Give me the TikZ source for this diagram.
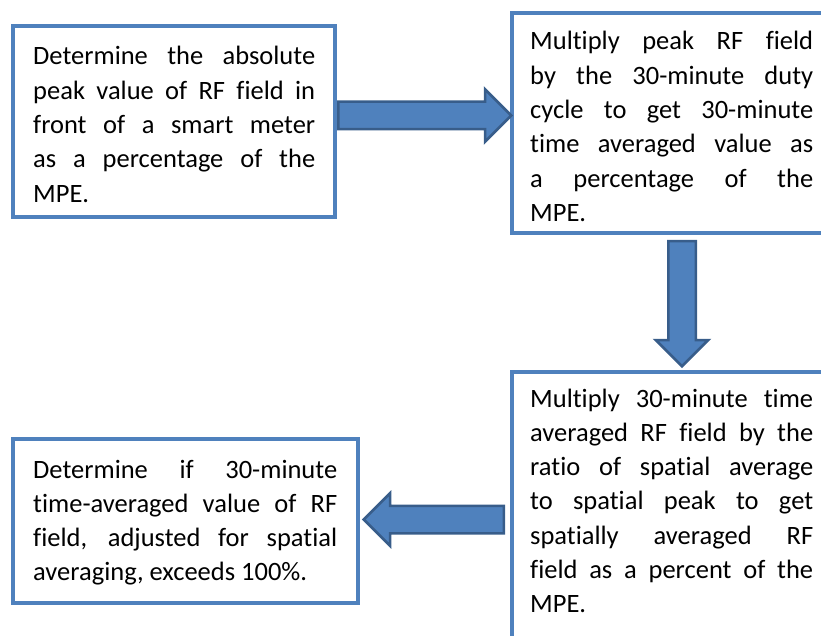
\documentclass[tikz,border=0pt]{standalone}
\usepackage{fontspec}
\setmainfont{Carlito}[Ligatures=NoCommon]
\usepackage{tikz}
\usetikzlibrary{positioning,shapes.arrows,calc}
\definecolor{boxblue}{HTML}{4F81BD}
\definecolor{arrowedge}{HTML}{385D8A}
\hyphenpenalty=10000
\exhyphenpenalty=10000

\begin{document}
\begin{tikzpicture}[
  x=1pt, y=-1pt,
  every node/.style={font=\fontsize{26.5}{34.3}\selectfont},
  stepbox/.style={draw=boxblue, line width=4pt, fill=white, anchor=north west},
  steptext/.style={anchor=base west, inner sep=0pt, align=justify},
  flowarrow/.style={single arrow, draw=arrowedge, fill=boxblue, line width=2.5pt,
    inner xsep=0pt, inner ysep=12.5pt, single arrow head extend=12.5pt,
    single arrow tip angle=90, anchor=tail}
]
\useasboundingbox (0,0) rectangle (821,636);
\clip (0,0) rectangle (821,636);

% boxes
\node[stepbox, minimum width=322, minimum height=191] (b1) at (11,24) {};
\node[stepbox, minimum width=340, minimum height=220] (b2) at (510,11) {};
\node[stepbox, minimum width=340, minimum height=300] (b3) at (510,370) {};
\node[stepbox, minimum width=345, minimum height=164] (b4) at (11,437) {};

% texts
\node[steptext, text width=282pt] (t1) at ([shift={(22,41)}]b1.north west)
  {Determine the absolute\linebreak peak value of RF field in\linebreak front of a smart meter\linebreak as a percentage of the\linebreak MPE.};
\node[steptext, text width=283pt] (t2) at ([shift={(20,39)}]b2.north west)
  {Multiply peak RF field\linebreak by the 30-minute duty\linebreak cycle to get 30-minute\linebreak time averaged value as\linebreak a percentage of the\linebreak MPE.};
\node[steptext, text width=283pt] (t3) at ([shift={(20,37)}]b3.north west)
  {Multiply 30-minute time\linebreak averaged RF field by the\linebreak ratio of spatial average\linebreak to spatial peak to get\linebreak spatially averaged RF\linebreak field as a percent of the\linebreak MPE.};
\node[steptext, text width=304pt] (t4) at ([shift={(22,41)}]b4.north west)
  {Determine if 30-minute\linebreak time-averaged value of RF\linebreak field, adjusted for spatial\linebreak averaging, exceeds 100\%.};

% block arrows
\node[flowarrow, minimum height=173] (a1) at ([yshift=6pt]b1.east) {};
\node[flowarrow, rotate=-90, minimum height=125] (a2) at ([yshift=-5pt]b2.south) {};
\node[flowarrow, rotate=180, minimum height=140] (a3) at ([shift={(-5pt,2.5pt)}]b3.west) {};
\end{tikzpicture}
\end{document}
